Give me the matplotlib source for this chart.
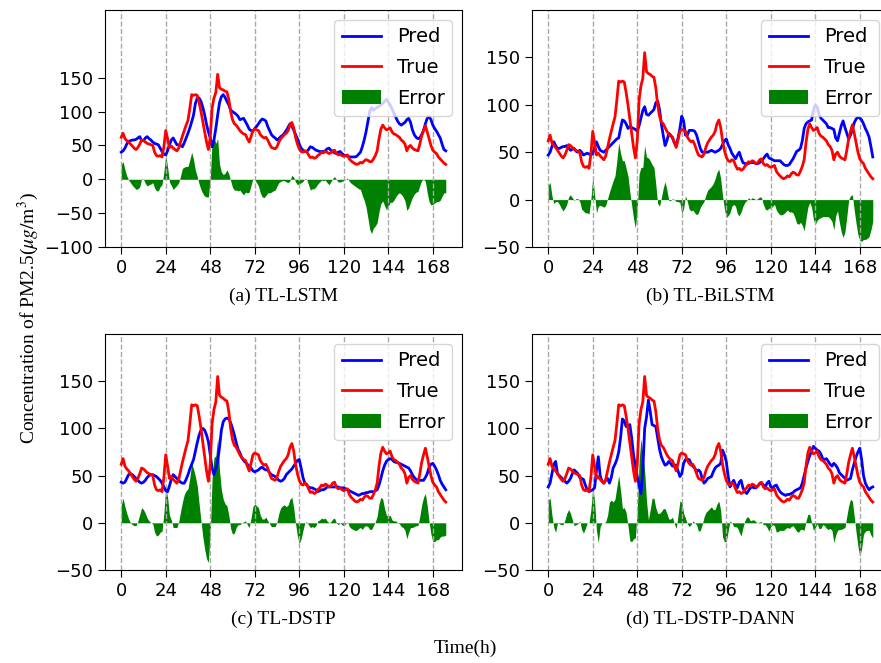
import numpy as np
import matplotlib
matplotlib.use("Agg")
import matplotlib.pyplot as plt

plt.rcParams["mathtext.fontset"] = "stix"

# hourly PM2.5 values (0..175 h)
hours = np.arange(176)

true_vals = [
    62, 68, 60, 57, 55, 52, 49, 46, 44, 47, 52, 58,
    57, 55, 53, 52, 51, 50, 40, 35, 34, 35, 33, 48,
    72, 60, 47, 49, 46, 44, 42, 46, 55, 64, 72, 80,
    87, 105, 125, 124, 125, 124, 113, 100, 85, 70, 55, 44,
    62, 105, 120, 128, 155, 135, 133, 132, 130, 129, 118, 100,
    88, 82, 80, 76, 72, 69, 67, 66, 60, 55, 63, 72,
    74, 73, 72, 66, 63, 61, 62, 58, 52, 47, 46, 45,
    48, 55, 60, 63, 66, 68, 72, 80, 84, 76, 62, 52,
    45, 41, 40, 42, 41, 36, 32, 33, 31, 32, 35, 37,
    40, 39, 41, 40, 38, 39, 42, 43, 38, 36, 37, 35,
    34, 35, 36, 30, 27, 25, 23, 22, 23, 25, 24, 27,
    29, 28, 26, 26, 30, 35, 42, 60, 74, 80, 76, 73,
    74, 76, 70, 67, 66, 64, 62, 58, 56, 52, 42, 48,
    50, 46, 44, 43, 42, 52, 64, 72, 79, 70, 60, 50,
    43, 40, 38, 33, 30, 27, 24, 22,
]

pred_lstm = [
    40, 42, 46, 52, 56, 57, 58, 58, 59, 61, 63, 57,
    57, 61, 63, 60, 58, 55, 53, 52, 51, 46, 41, 37,
    36, 42, 51, 58, 61, 56, 51, 51, 50, 48, 54, 61,
    68, 76, 85, 95, 112, 120, 120, 115, 106, 95, 81, 70,
    61, 48, 58, 75, 95, 113, 122, 125, 121, 115, 110, 102,
    100, 98, 96, 93, 88, 89, 90, 85, 80, 74, 72, 71,
    75, 78, 82, 86, 89, 88, 86, 78, 72, 66, 63, 61,
    58, 60, 63, 65, 68, 72, 77, 82, 78, 73, 66, 60,
    52, 46, 43, 41, 41, 44, 48, 47, 45, 43, 42, 41,
    41, 41, 42, 45, 46, 43, 41, 39, 38, 40, 41, 38,
    36, 35, 34, 33, 33, 33, 33, 34, 37, 40, 48, 58,
    70, 85, 100, 106, 102, 104, 106, 108, 110, 112, 115, 118,
    114, 110, 104, 98, 92, 86, 82, 80, 82, 84, 88, 90,
    84, 73, 66, 62, 60, 61, 66, 72, 82, 90, 93, 88,
    80, 75, 71, 66, 61, 52, 44, 42,
]

pred_bilstm = [
    47, 50, 56, 61, 57, 54, 54, 55, 56, 56, 57, 55,
    52, 53, 54, 51, 50, 52, 50, 47, 48, 49, 48, 48,
    48, 55, 61, 56, 52, 51, 50, 52, 54, 56, 58, 60,
    62, 64, 65, 75, 84, 83, 80, 75, 77, 76, 75, 74,
    72, 78, 86, 94, 98, 90, 89, 91, 93, 95, 102, 104,
    95, 80, 68, 57, 62, 70, 68, 65, 60, 57, 65, 75,
    88, 83, 68, 68, 73, 73, 73, 72, 68, 61, 54, 50,
    50, 50, 50, 51, 52, 51, 50, 51, 52, 54, 58, 62,
    64, 58, 54, 49, 46, 43, 47, 50, 44, 39, 38, 38,
    38, 39, 39, 39, 38, 38, 39, 41, 43, 46, 48, 44,
    43, 42, 41, 41, 41, 41, 39, 37, 36, 36, 37, 40,
    43, 47, 51, 52, 54, 62, 75, 80, 82, 83, 84, 94,
    100, 98, 90, 86, 84, 82, 80, 76, 76, 75, 74, 65,
    62, 70, 78, 83, 76, 70, 64, 68, 74, 81, 85, 87,
    86, 84, 80, 75, 71, 66, 56, 45,
]

pred_dstp = [
    43, 42, 43, 47, 51, 52, 51, 49, 47, 45, 43, 42,
    43, 45, 48, 50, 51, 51, 50, 49, 47, 45, 42, 38,
    34, 33, 39, 46, 51, 49, 47, 45, 43, 42, 42, 46,
    51, 57, 62, 67, 76, 85, 93, 98, 100, 98, 93, 86,
    72, 58, 51, 57, 65, 80, 98, 107, 110, 111, 110, 106,
    100, 93, 85, 78, 74, 69, 66, 64, 62, 60, 58, 55,
    54, 55, 56, 58, 59, 57, 56, 56, 53, 51, 50, 49,
    47, 45, 44, 45, 47, 51, 53, 55, 57, 60, 63, 66,
    67, 58, 48, 42, 40, 38, 37, 37, 36, 35, 33, 34,
    35, 35, 36, 38, 38, 38, 38, 38, 38, 38, 37, 37,
    37, 36, 35, 34, 33, 32, 31, 30, 29, 30, 31, 31,
    32, 32, 33, 33, 33, 34, 35, 40, 47, 55, 61, 65,
    67, 68, 67, 65, 64, 64, 63, 62, 61, 60, 59, 58,
    55, 51, 48, 46, 45, 45, 45, 45, 48, 52, 59, 62,
    63, 60, 56, 51, 45, 41, 38, 35,
]

pred_dann = [
    38, 42, 52, 62, 65, 52, 50, 48, 46, 44, 42, 44,
    47, 52, 56, 54, 52, 48, 47, 46, 40, 35, 33, 34,
    35, 37, 55, 70, 50, 44, 42, 45, 47, 42, 48, 58,
    62, 67, 75, 90, 110, 108, 102, 103, 104, 90, 72, 60,
    49, 40, 31, 55, 100, 112, 130, 118, 104, 103, 102, 90,
    78, 70, 65, 61, 62, 65, 63, 60, 61, 61, 55, 49,
    52, 63, 67, 67, 67, 63, 60, 58, 54, 56, 54, 47,
    42, 44, 47, 48, 49, 54, 58, 60, 61, 63, 77, 72,
    65, 50, 38, 42, 45, 40, 37, 43, 45, 37, 33, 31,
    34, 37, 38, 37, 37, 39, 41, 42, 40, 38, 42, 44,
    38, 37, 39, 40, 36, 33, 31, 30, 29, 30, 30, 31,
    32, 34, 35, 36, 37, 42, 50, 58, 65, 71, 76, 81,
    79, 77, 76, 73, 68, 67, 68, 65, 62, 60, 63, 61,
    58, 53, 51, 49, 47, 45, 46, 47, 56, 63, 70, 75,
    79, 67, 50, 42, 38, 35, 37, 38,
]

titles = ["(a) TL-LSTM", "(b) TL-BiLSTM", "(c) TL-DSTP", "(d) TL-DSTP-DANN"]
preds = [pred_lstm, pred_bilstm, pred_dstp, pred_dann]
ylims = [(-100, 250), (-50, 200), (-50, 200), (-50, 200)]
yticks = [np.arange(-100, 151, 50), np.arange(-50, 151, 50),
          np.arange(-50, 151, 50), np.arange(-50, 151, 50)]
xticks = np.arange(0, 169, 24)

W, H = 881, 663
fig = plt.figure(figsize=(W / 100, H / 100), dpi=100)

# axes boxes in pixels: left, top, width, height
boxes = [(105, 10, 357, 237), (532, 10, 357, 237),
         (105, 334, 357, 236), (532, 334, 357, 236)]

true_arr = np.array(true_vals, dtype=float)

for i in range(4):
    l, t, w, h = boxes[i]
    ax = fig.add_axes([l / W, 1 - (t + h) / H, w / W, h / H])
    pred = np.array(preds[i], dtype=float)
    err = true_arr - pred
    ax.plot(hours, pred, color="#0000ff", linewidth=2, label="Pred")
    ax.plot(hours, true_arr, color="#ff0000", linewidth=2, label="True")
    ax.fill_between(hours, err, 0, color="green", linewidth=0, label="Error")
    ax.set_ylim(*ylims[i])
    ax.set_yticks(yticks[i])
    ax.set_xticks(xticks)
    ax.grid(axis="x", linestyle="--", color="#aaaaaa", linewidth=1)
    ax.tick_params(labelsize=13, length=5)
    ax.set_xlabel(titles[i], fontsize=14, family="Liberation Serif", labelpad=8)
    ax.legend(loc="upper right", fontsize=14, labelspacing=0.6)

fig.text(28 / W, 0.52, r"Concentration of PM2.5($\mu g/\mathrm{m}^3$)",
         rotation=90, ha="center", va="center", fontsize=14, family="Liberation Serif")
fig.text(465 / W, 1 - 648 / H, "Time(h)", ha="center", va="center",
         fontsize=14, family="Liberation Serif")

fig.savefig("out.png", dpi=100)
